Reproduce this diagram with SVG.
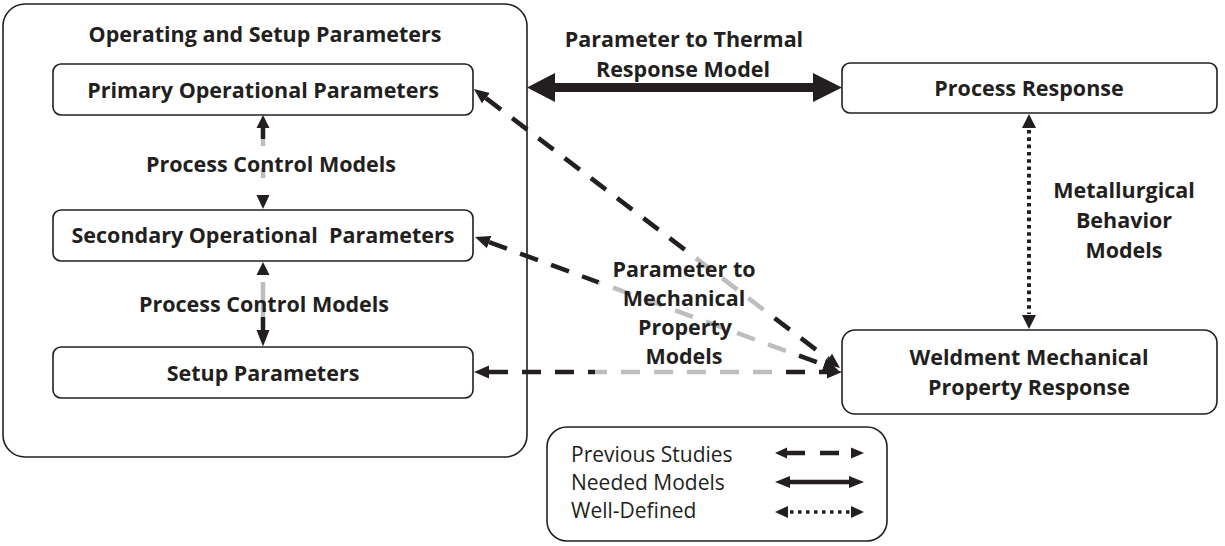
<svg xmlns="http://www.w3.org/2000/svg" width="1225" height="546" viewBox="0 0 1225 546">
  <style>
    .box { fill: #ffffff; stroke: #231f20; stroke-width: 1.6; }
    .lbl { font-family: "Open Sans", "Noto Sans", "Liberation Sans", sans-serif; font-weight: 700; font-size: 21.5px; fill: #231f20; text-anchor: middle; }
    .leg { font-family: "Open Sans", "Noto Sans", "Liberation Sans", sans-serif; font-weight: 400; font-size: 21px; fill: #231f20; }
    .ink { fill: #231f20; }
    .dash { fill: none; stroke-width: 4.5; stroke-dasharray: 19 14; }
    .gray { fill: none; stroke: #bcbec0; stroke-width: 4.5; }
    .shaft { fill: none; stroke: #231f20; stroke-width: 4.5; }
  </style>
  <defs>
    <!-- arrowhead for dashed links; base sits at the path end -->
    <marker id="head" markerUnits="userSpaceOnUse" markerWidth="16" markerHeight="14" refX="0" refY="6.5" orient="auto-start-reverse" viewBox="0 0 16 13">
      <path d="M0 0 L15 6.5 L0 13 Z" fill="#231f20"/>
    </marker>
    <!-- black / gray / black colouring along each dashed link -->
    <linearGradient id="gH" gradientUnits="userSpaceOnUse" x1="474" y1="372" x2="842" y2="372">
      <stop offset="0.33" stop-color="#231f20"/><stop offset="0.33" stop-color="#bcbec0"/>
      <stop offset="0.82" stop-color="#bcbec0"/><stop offset="0.82" stop-color="#231f20"/>
    </linearGradient>
    <linearGradient id="g1" gradientUnits="userSpaceOnUse" x1="474" y1="89" x2="840" y2="368">
      <stop offset="0.58" stop-color="#231f20"/><stop offset="0.58" stop-color="#bcbec0"/>
      <stop offset="0.81" stop-color="#bcbec0"/><stop offset="0.81" stop-color="#231f20"/>
    </linearGradient>
    <linearGradient id="g2" gradientUnits="userSpaceOnUse" x1="475" y1="237" x2="838" y2="370">
      <stop offset="0.34" stop-color="#231f20"/><stop offset="0.34" stop-color="#bcbec0"/>
      <stop offset="0.87" stop-color="#bcbec0"/><stop offset="0.87" stop-color="#231f20"/>
    </linearGradient>
  </defs>

  <!-- container -->
  <g id="operating-setup">
    <rect class="box" x="3" y="4" width="524" height="453" rx="22"/>
    <text class="lbl" x="265" y="42">Operating and Setup Parameters</text>
  </g>

  <g id="primary">
    <rect class="box" x="53" y="64" width="420" height="51" rx="8"/>
    <text class="lbl" x="263" y="98">Primary Operational Parameters</text>
  </g>

  <g id="secondary">
    <rect class="box" x="53" y="210" width="420" height="51" rx="8"/>
    <text class="lbl" x="263" y="243" style="white-space:pre">Secondary Operational  Parameters</text>
  </g>

  <g id="setup">
    <rect class="box" x="53" y="347" width="420" height="51" rx="8"/>
    <text class="lbl" x="263" y="381">Setup Parameters</text>
  </g>

  <g id="process-response">
    <rect class="box" x="842" y="63" width="375" height="50" rx="8"/>
    <text class="lbl" x="1029" y="96">Process Response</text>
  </g>

  <g id="weldment">
    <rect class="box" x="842" y="330" width="375" height="84" rx="13"/>
    <text class="lbl" x="1029" y="365">Weldment Mechanical</text>
    <text class="lbl" x="1029" y="395">Property Response</text>
  </g>

  <g id="connectors">
    <!-- primary <-> secondary -->
    <path class="ink" d="M263 115 L269.5 128 L256.5 128 Z"/>
    <path class="shaft" d="M263 127 V139"/>
    <path class="gray" d="M263 139 V146 M263 168 V178"/>
    <path class="ink" d="M263 209 L269.5 195 L256.5 195 Z"/>

    <!-- secondary <-> setup -->
    <path class="ink" d="M263 262 L269.5 275 L256.5 275 Z"/>
    <path class="gray" d="M263 282 V317"/>
    <path class="shaft" d="M263 317 V331"/>
    <path class="ink" d="M263 346.5 L269.5 330 L256.5 330 Z"/>

    <!-- parameter to thermal response model -->
    <path class="ink" d="M527 87.5 L555 73 L555 83 L813 83 L813 73 L842 87.5 L813 102 L813 92 L555 92 L555 102 Z"/>

    <!-- metallurgical behavior models -->
    <path class="ink" d="M1029 114 L1036 128 L1022 128 Z"/>
    <path fill="none" stroke="#231f20" stroke-width="4" stroke-dasharray="3.6 3.7" d="M1029 130 V314"/>
    <path class="ink" d="M1029 329 L1036 315 L1022 315 Z"/>

    <!-- parameter to mechanical property models -->
    <path class="dash" stroke="url(#g1)" marker-start="url(#head)" marker-end="url(#head)" d="M485.9 98.1 L828.1 358.9"/>
    <path class="dash" stroke="url(#g2)" marker-start="url(#head)" marker-end="url(#head)" d="M489.1 242.2 L823.9 364.8"/>
    <path class="dash" stroke="url(#gH)" marker-start="url(#head)" marker-end="url(#head)" d="M489 372 L827 372"/>

    <text class="lbl" x="271" y="172">Process Control Models</text>
    <text class="lbl" x="264" y="312">Process Control Models</text>
    <text class="lbl" x="684" y="47">Parameter to Thermal</text>
    <text class="lbl" x="683" y="77">Response Model</text>
    <text class="lbl" x="1124" y="198">Metallurgical</text>
    <text class="lbl" x="1124" y="228">Behavior</text>
    <text class="lbl" x="1124" y="258">Models</text>
    <text class="lbl" x="684" y="277">Parameter to</text>
    <text class="lbl" x="684" y="306">Mechanical</text>
    <text class="lbl" x="685" y="335">Property</text>
    <text class="lbl" x="684" y="364">Models</text>
  </g>

  <!-- key -->
  <g id="legend">
    <rect class="box" x="547" y="427" width="340" height="114" rx="20"/>
    <text class="leg" x="571" y="462">Previous Studies</text>
    <text class="leg" x="571" y="490">Needed Models</text>
    <text class="leg" x="571" y="518">Well-Defined</text>

    <path class="ink" d="M775 453 L787 447.5 L787 458.5 Z"/>
    <path class="shaft" stroke-width="4" d="M786 453 H805 M820 453 H839"/>
    <path class="ink" d="M864 453 L851 447.5 L851 458.5 Z"/>

    <path class="ink" d="M775 482 L790 476 L790 488 Z"/>
    <path class="shaft" stroke-width="3.5" d="M789 482 H850"/>
    <path class="ink" d="M864 482 L849 476 L849 488 Z"/>

    <path class="ink" d="M775 512 L788 506 L788 518 Z"/>
    <path fill="none" stroke="#231f20" stroke-width="3.5" stroke-dasharray="3.5 4.5" d="M790 512 H851"/>
    <path class="ink" d="M864 512 L851 506 L851 518 Z"/>
  </g>
</svg>
